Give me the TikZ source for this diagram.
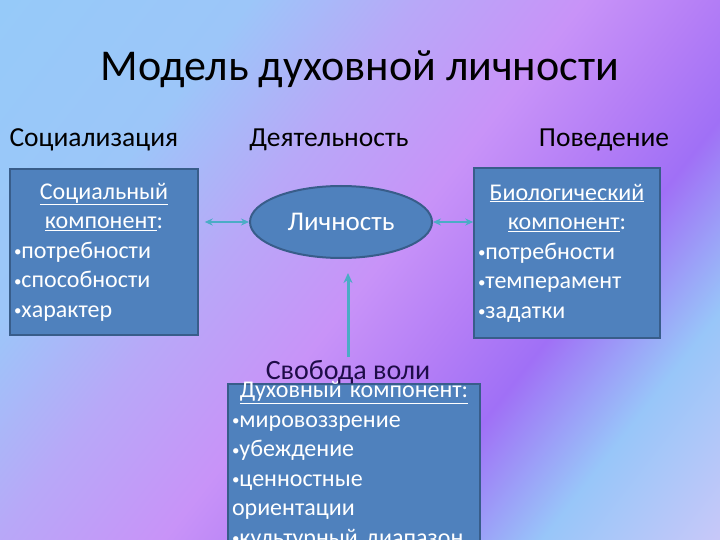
\documentclass[tikz,border=0pt]{standalone}
\usepackage{fontspec}
\setmainfont{Carlito}
\usetikzlibrary{arrows.meta,positioning,shapes.geometric}
\definecolor{bgsky}{HTML}{96CAF9}
\definecolor{bgsky2}{HTML}{9CC6F9}
\definecolor{bgmix}{HTML}{B8A8F8}
\definecolor{bglilac}{HTML}{C893F8}
\definecolor{bgplum}{HTML}{B47EF6}
\definecolor{bgviolet}{HTML}{A070F6}
\definecolor{bgblue}{HTML}{98C6F9}
\definecolor{bglav}{HTML}{C8C8F9}
\definecolor{cardfill}{HTML}{4F81BD}
\definecolor{cardedge}{HTML}{385D8A}
\definecolor{flowteal}{HTML}{4BACC6}
\definecolor{willink}{HTML}{1E0C48}
\pgfdeclarehorizontalshading{stripes}{100bp}{color(0bp)=(bgsky); color(25bp)=(bgsky); color(36bp)=(bgsky2); color(43.3bp)=(bgmix); color(50.6bp)=(bglilac); color(56.1bp)=(bgplum); color(60.6bp)=(bgviolet); color(67.2bp)=(bgblue); color(75bp)=(bglav); color(100bp)=(bglav)}
\newcommand{\bul}{{\fontsize{15}{15}\selectfont\raisebox{1.5pt}{•}}}
\tikzset{card/.style={draw=cardedge,line width=1.5pt,fill=cardfill,text=white,align=left,font=\fontsize{24}{29.5}\selectfont,inner xsep=4pt},head/.style={font=\fontsize{27.5}{30}\selectfont},flow/.style={{Stealth[length=8pt,width=7pt]}-{Stealth[length=8pt,width=7pt]},line width=2pt,draw=flowteal},rise/.style={-{Stealth[length=10pt,width=9pt]},line width=3pt,draw=flowteal,shorten >=14pt}}

\begin{document}
\begin{tikzpicture}[x=1pt,y=-1pt]
\useasboundingbox (0,0) rectangle (720,540);
\begin{scope}
\clip (0,0) rectangle (720,540);
\begin{scope}[transform canvas={rotate=-38}]
\shade[shading=stripes] (0,-460) rectangle (900,460);
\end{scope}
\end{scope}
\node[font=\fontsize{44}{50}\selectfont] (title) at (360,69) {Модель духовной личности};
\node[head,anchor=west] (socl) at (6,140) {Социализация};
\node[head] (actl) at (329,140) {Деятельность};
\node[head] (behl) at (604,140) {Поведение};
\node[card,text width=180pt,minimum height=166pt] (soc) at (104,252) {{\centering\underline{Социальный}\\ \underline{компонент}:\par}\bul потребности\\\bul способности\\\bul характер};
\node[card,text width=178pt,minimum height=170pt] (bio) at (567,253) {{\centering\underline{Биологический}\\ \underline{компонент}:\par}\bul потребности\\\bul темперамент\\\bul задатки};
\node[card,ellipse,minimum width=182pt,minimum height=72pt,align=center,line width=2pt,font=\fontsize{27}{30}\selectfont] (pers) at (341,222) {Личность};
\node[card,text width=244pt,anchor=north,inner ysep=-2pt] (spirit) at (354,383) {{\centering\underline{Духовный компонент:}\par}\bul мировоззрение\\\bul убеждение\\\bul ценностные\\ориентации\\\bul культурный диапазон};
\node[font=\fontsize{28}{30}\selectfont,text=willink] (will) at (348,372) {Свобода воли};
\draw[flow,shorten <=6pt] (pers.west -| soc.east) -- (pers.west);
\draw[flow] (pers.east) -- (pers.east -| bio.west);
\draw[rise] (will.north) -- (will.north |- pers.south);
\end{tikzpicture}
\end{document}
